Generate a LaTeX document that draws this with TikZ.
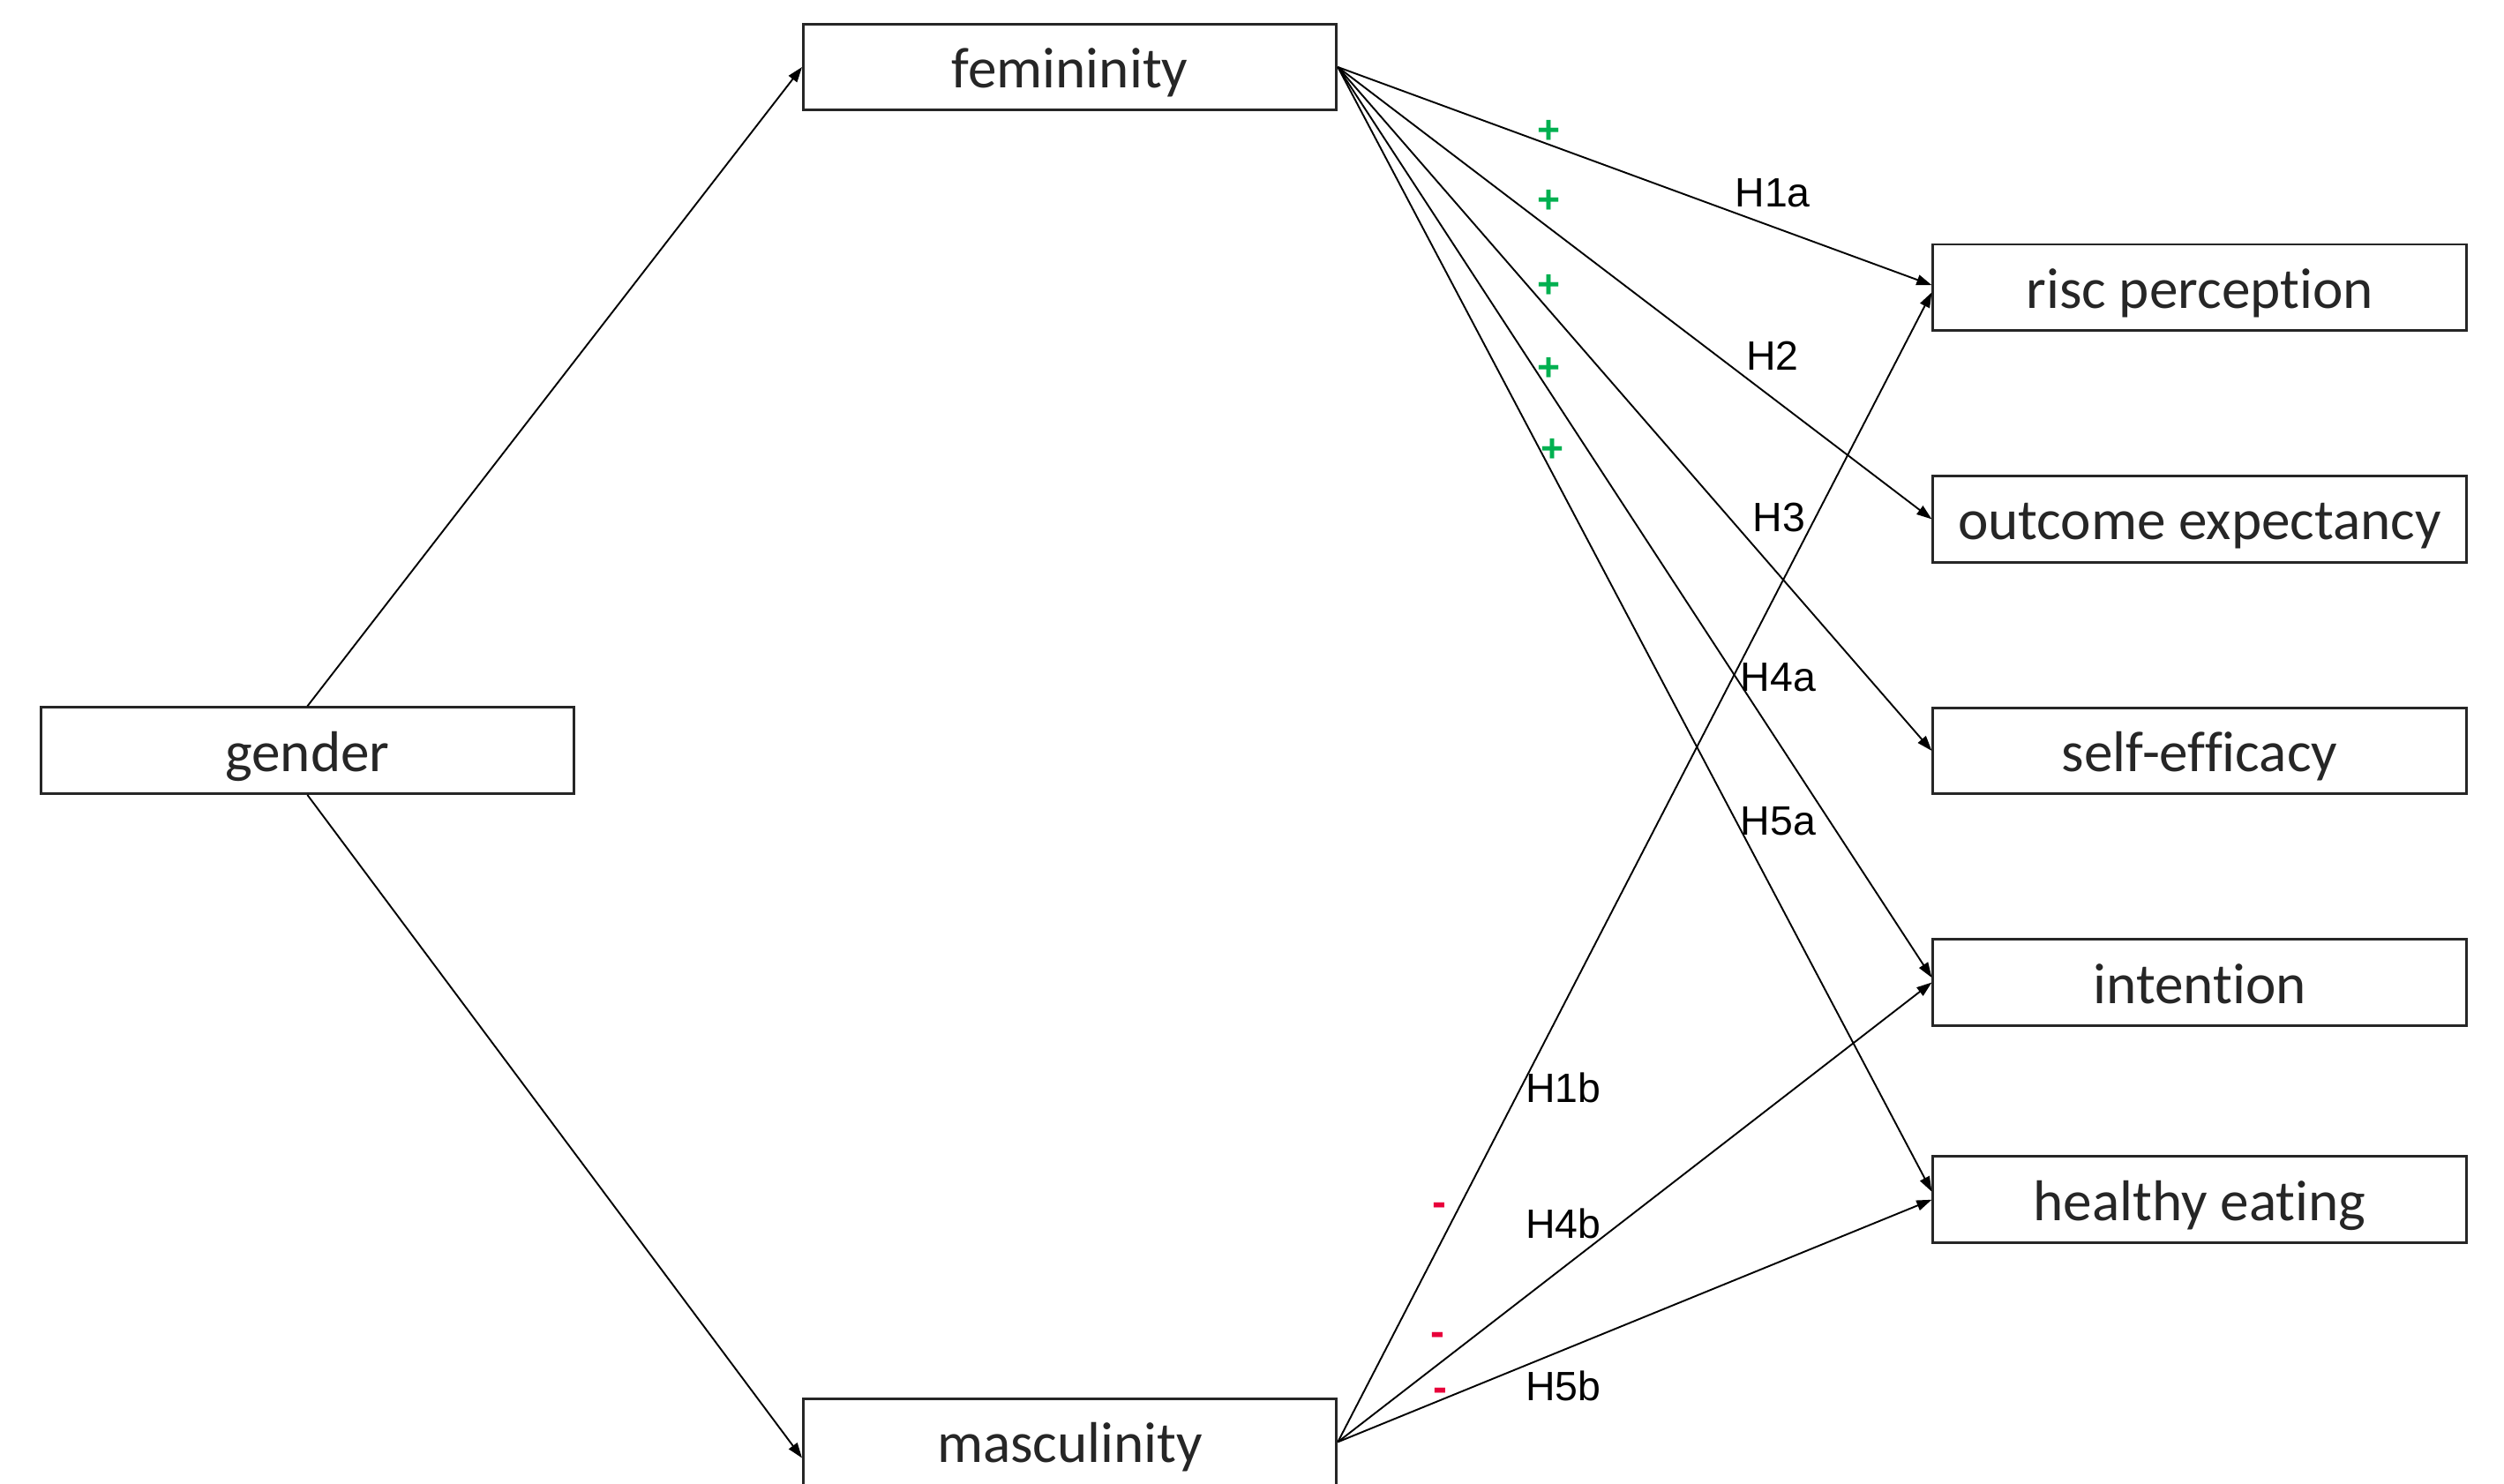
\documentclass[tikz,border=0pt]{standalone}
\usepackage{fontspec}
\setmainfont{Carlito}[Ligatures=NoCommon]
\newfontfamily\arialfont{Liberation Sans}
\usetikzlibrary{arrows.meta,positioning}
\definecolor{plusgreen}{RGB}{0,176,80}
\definecolor{minusred}{RGB}{232,0,58}
\definecolor{boxgray}{RGB}{38,38,38}
\tikzstyle{construct}=[
	rectangle,
	draw=boxgray,
	line width=0.9pt,
	text=boxgray,
	minimum width=6.68cm,
	minimum height=1.08cm,
	inner sep=0pt,
	text height=18pt,
	text depth=3.2pt,
	font=\fontsize{20.5}{24}\selectfont
]
\tikzstyle{hypothesis}=[
	->,
	>={Triangle[length=1.9mm,width=1.3mm]},
	line width=0.6pt
]
\tikzstyle{hlabel}=[
	inner sep=0pt,
	font=\arialfont\fontsize{14.6}{17}\selectfont
]
\tikzstyle{possign}=[
	inner sep=0pt,
	anchor=base,
	text=plusgreen,
	font=\arialfont\bfseries\fontsize{14}{16}\selectfont
]
\tikzstyle{negsign}=[
	inner sep=0pt,
	anchor=base,
	text=minusred,
	font=\arialfont\bfseries\fontsize{15}{17}\selectfont
]
\begin{document}
\begin{tikzpicture}[x=0.02cm,y=0.02cm]
\useasboundingbox (0,0) rectangle (1568,-929);
% constructs
\node [construct] (gender) at (192.5,-470) {gender};
\node [construct] (femininity) [above right=7.45cm and 2.84cm of gender] {femininity};
\node [construct] (masculinity) [below right=7.55cm and 2.84cm of gender] {masculinity};
\node [construct] (risc) [below right=1.65cm and 7.44cm of femininity] {risc perception};
\node [construct] (outcome) [below=1.79cm of risc] {outcome expectancy};
\node [construct] (efficacy) [below=1.79cm of outcome] {self-efficacy};
\node [construct] (intention) [below=1.79cm of efficacy] {intention};
\node [construct] (eating) [below=1.61cm of intention] {healthy eating};
% paths
\draw [hypothesis] (gender.north) -- (femininity.west);
\draw [hypothesis] (gender.south) -- ([yshift=-0.2cm]masculinity.west);
\draw [hypothesis] (femininity.east) -- ([yshift=0.03cm]risc.west);
\draw [hypothesis] (femininity.east) -- (outcome.west);
\draw [hypothesis] (femininity.east) -- (efficacy.west);
\draw [hypothesis] (femininity.east) -- ([yshift=0.06cm]intention.west);
\draw [hypothesis] (femininity.east) -- ([yshift=0.1cm]eating.west);
\draw [hypothesis] (masculinity.east) -- ([yshift=-0.06cm]risc.west);
\draw [hypothesis] (masculinity.east) -- (intention.west);
\draw [hypothesis] (masculinity.east) -- (eating.west);
% hypotheses
\node [hlabel] (H1a) at (1110,-121) {H1a};
\node [hlabel] (H2) at (1110,-223) {H2};
\node [hlabel] (H3) at (1114,-324) {H3};
\node [hlabel] (H4a) at (1113.5,-424) {H4a};
\node [hlabel] (H5a) at (1113.5,-514) {H5a};
\node [hlabel] (H1b) at (979,-681) {H1b};
\node [hlabel] (H4b) at (979,-766) {H4b};
\node [hlabel] (H5b) at (979,-868) {H5b};
% signs
\node [possign] (plus1) at (970,-89.7) {+};
\node [possign] (plus2) at (970,-133.7) {+};
\node [possign] (plus3) at (970,-186.2) {+};
\node [possign] (plus4) at (970,-238.2) {+};
\node [possign] (plus5) at (972,-289.2) {+};
\node [negsign] (minus1) at (901.5,-761.8) {-};
\node [negsign] (minus2) at (900.5,-842.8) {-};
\node [negsign] (minus3) at (902,-877.8) {-};
\end{tikzpicture}
\end{document}
